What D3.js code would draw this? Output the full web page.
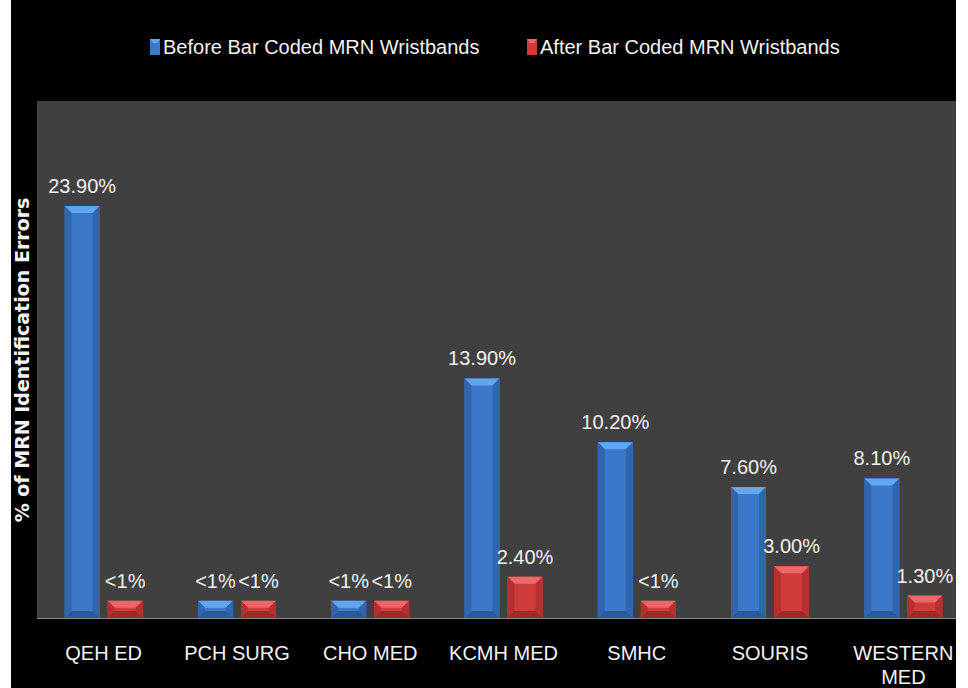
<!DOCTYPE html>
<html>
<head>
<meta charset="utf-8">
<script src="https://cdn.jsdelivr.net/npm/d3@7"></script>
<style>
  html, body { margin: 0; padding: 0; background: #fff; }
  svg { display: block; }
  text { font-family: "Liberation Sans", Arial, sans-serif; fill: #f2f2f2; }
</style>
</head>
<body>
<div id="root"></div>
<script>
// chart values
var units = ['QEH ED', 'PCH SURG', 'CHO MED', 'KCMH MED', 'SMHC', 'SOURIS', 'WESTERN MED'];
var beforeVals = [23.9, 1, 1, 13.9, 10.2, 7.6, 8.1];
var afterVals = [1, 1, 1, 2.4, 1, 3.0, 1.3];
var beforeLabels = ['23.90%', '<1%', '<1%', '13.90%', '10.20%', '7.60%', '8.10%'];
var afterLabels = ['<1%', '<1%', '<1%', '2.40%', '<1%', '3.00%', '1.30%'];
var seriesNames = ['Before Bar Coded MRN Wristbands', 'After Bar Coded MRN Wristbands'];

var w = 968, h = 688;
var plotLeft = 37, plotRight = 970, plotTop = 101, plotBottom = 618;

var svg = d3.select('#root').append('svg')
  .attr('width', w)
  .attr('height', h);

// black slide background, white strips either side
svg.append('rect').attr('width', w).attr('height', h).attr('fill', '#fff');
svg.append('rect').attr('x', 11).attr('width', 945).attr('height', h).attr('fill', '#000');

svg.append('clipPath').attr('id', 'slide')
  .append('rect').attr('x', 11).attr('width', 945).attr('height', h);
var g = svg.append('g').attr('clip-path', 'url(#slide)');

// plot area
g.append('rect')
  .attr('x', plotLeft).attr('y', plotTop)
  .attr('width', plotRight - plotLeft).attr('height', plotBottom - plotTop)
  .attr('fill', '#404040');

var x0 = d3.scaleBand().domain(units).range([plotLeft, plotRight]);
var x1 = d3.scaleBand().domain(['before', 'after']).range([-39, 39]).paddingInner(0.186);
var y = d3.scaleLinear().domain([0, 30]).range([plotBottom, plotTop]);

var palette = {
  before: { main: '#3b78c9', top: '#62a6ef', side: '#3166ae', bottom: '#2b5a9c' },
  after:  { main: '#cf3b3b', top: '#ec6767', side: '#b53030', bottom: '#9e2929' }
};

var rows = units.map(function(u, i) {
  return [
    { unit: u, key: 'before', v: beforeVals[i], label: beforeLabels[i] },
    { unit: u, key: 'after', v: afterVals[i], label: afterLabels[i] }
  ];
});
var flat = [].concat.apply([], rows);

function barX(d) { return x0(d.unit) + x0.bandwidth() / 2 + x1(d.key); }

// bevelled bars
var bars = g.selectAll('g.bar').data(flat).enter().append('g').attr('class', 'bar');

bars.each(function(d) {
  var sel = d3.select(this);
  var bx = barX(d), bw = x1.bandwidth(), by = y(d.v), bh = plotBottom - by;
  var b = Math.min(7, bh / 2);
  var c = palette[d.key];
  sel.append('rect').attr('x', bx).attr('y', by).attr('width', bw).attr('height', bh).attr('fill', c.main);
  sel.append('polygon').attr('fill', c.top)
    .attr('points', [[bx, by], [bx + bw, by], [bx + bw - b, by + b], [bx + b, by + b]].join(' '));
  sel.append('polygon').attr('fill', c.side)
    .attr('points', [[bx, by], [bx + b, by + b], [bx + b, by + bh - b], [bx, by + bh]].join(' '));
  sel.append('polygon').attr('fill', c.side)
    .attr('points', [[bx + bw, by], [bx + bw - b, by + b], [bx + bw - b, by + bh - b], [bx + bw, by + bh]].join(' '));
  sel.append('polygon').attr('fill', c.bottom)
    .attr('points', [[bx, by + bh], [bx + b, by + bh - b], [bx + bw - b, by + bh - b], [bx + bw, by + bh]].join(' '));
});

// value labels
g.selectAll('text.value').data(flat).enter().append('text')
  .attr('class', 'value')
  .attr('x', function(d) { return barX(d) + x1.bandwidth() / 2; })
  .attr('y', function(d) { return y(d.v) - 13; })
  .attr('text-anchor', 'middle')
  .style('font-size', '20px')
  .text(function(d) { return d.label; });

// baseline
g.append('line')
  .attr('x1', plotLeft).attr('x2', plotRight)
  .attr('y1', plotBottom + 0.5).attr('y2', plotBottom + 0.5)
  .attr('stroke', '#8a8a8a').attr('stroke-width', 1);

// category labels (WESTERN MED wraps onto a second line)
var xAxis = g.append('g');
units.forEach(function(u) {
  var cx = x0(u) + x0.bandwidth() / 2;
  var t = xAxis.append('text')
    .attr('x', cx).attr('y', 660)
    .attr('text-anchor', 'middle')
    .style('font-size', '20px');
  var parts = u === 'WESTERN MED' ? ['WESTERN', 'MED'] : [u];
  parts.forEach(function(p, i) {
    t.append('tspan').attr('x', cx).attr('dy', i === 0 ? 0 : 24).text(p);
  });
});

// y axis title
g.append('text')
  .attr('transform', 'translate(29,360) rotate(-90)')
  .attr('text-anchor', 'middle')
  .style('font-family', '"DejaVu Sans", sans-serif')
  .style('font-weight', 'bold')
  .style('font-size', '19px')
  .text('% of MRN Identification Errors');

// legend
var legendPos = [150, 527];
var legend = g.selectAll('g.legend').data(['before', 'after']).enter().append('g')
  .attr('class', 'legend')
  .attr('transform', function(d, i) { return 'translate(' + legendPos[i] + ',39)'; });

legend.append('rect').attr('width', 10).attr('height', 16).attr('fill', function(d) { return palette[d].main; });
legend.append('polygon')
  .attr('points', '0,0 10,0 7,4 3,4')
  .attr('fill', function(d) { return palette[d].top; });
legend.append('text')
  .attr('x', 13).attr('y', 15)
  .style('font-size', '20px')
  .text(function(d, i) { return seriesNames[i]; });
</script>
</body>
</html>
